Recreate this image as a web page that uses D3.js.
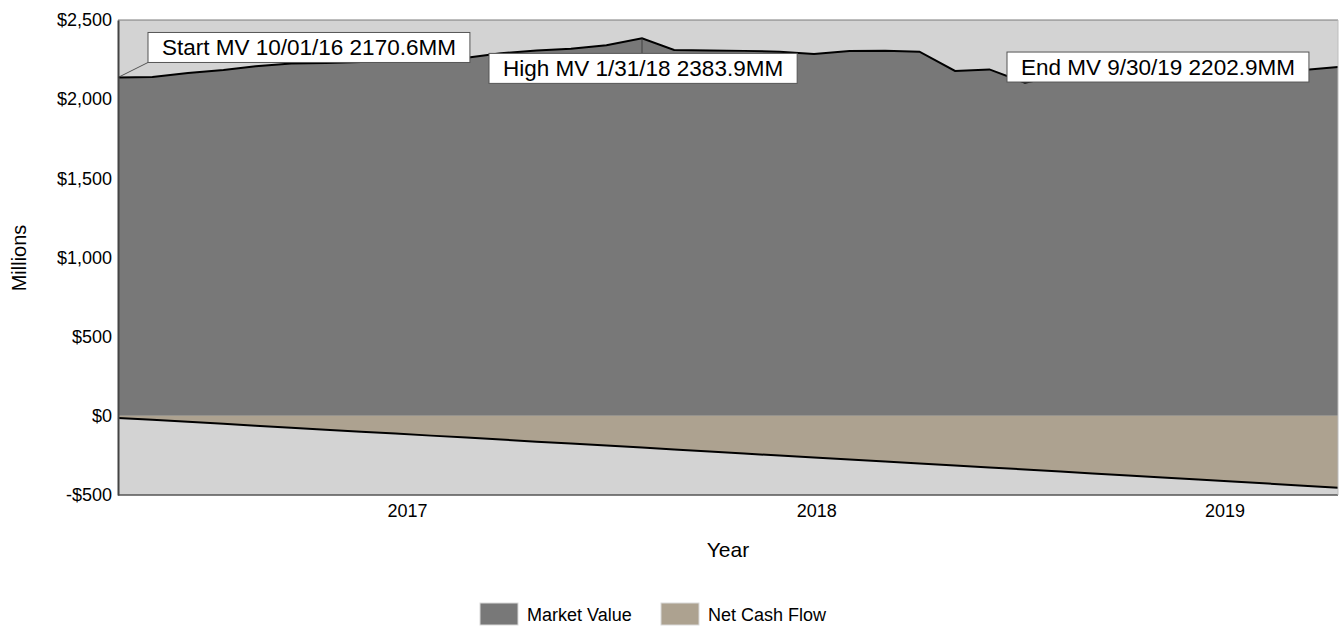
<!DOCTYPE html>
<html>
<head>
<meta charset="utf-8">
<script src="https://cdn.jsdelivr.net/npm/d3@7"></script>
<style>
body { margin: 0; background: #fff; }
text { font-family: Arial, "Liberation Sans", sans-serif; fill: #000; }
</style>
</head>
<body>
<script>
// month end dates
var dates = ["2016-10-31","2016-11-30","2016-12-31","2017-01-31","2017-02-28","2017-03-31",
  "2017-04-30","2017-05-31","2017-06-30","2017-07-31","2017-08-31","2017-09-30",
  "2017-10-31","2017-11-30","2017-12-31","2018-01-31","2018-02-28","2018-03-31",
  "2018-04-30","2018-05-31","2018-06-30","2018-07-31","2018-08-31","2018-09-30",
  "2018-10-31","2018-11-30","2018-12-31","2019-01-31","2019-02-28","2019-03-31",
  "2019-04-30","2019-05-31","2019-06-30","2019-07-31","2019-08-31","2019-09-30"];

var marketValue = [2137, 2140, 2165, 2184, 2208, 2225,
  2228, 2234, 2240, 2250, 2262, 2290,
  2308, 2318, 2340, 2383.9, 2311, 2308,
  2305, 2300, 2285, 2304, 2305, 2300,
  2178, 2188, 2104, 2150, 2165, 2178,
  2190, 2175, 2170, 2182, 2184, 2202.9];

var netCashFlow = [-13, -25, -38, -50, -62, -75,
  -88, -100, -112, -125, -137, -150,
  -163, -175, -188, -200, -213, -226,
  -238, -251, -263, -276, -289, -301,
  -314, -326, -339, -352, -364, -377,
  -389, -402, -415, -428, -441, -454];

var yTicks = [-500, 0, 500, 1000, 1500, 2000, 2500];
var yearLabels = ["2017", "2018", "2019"];
var yearTickDates = ["2017-07-10", "2018-07-02", "2019-06-23"];

var seriesNames = ["Market Value", "Net Cash Flow"];
var seriesColors = ["#787878", "#ada290"];

var annotations = [
  {text: "Start MV 10/01/16 2170.6MM", idx: 0},
  {text: "High MV 1/31/18 2383.9MM", idx: 15},
  {text: "End MV 9/30/19 2202.9MM", idx: 35}
];

var width = 1339, height = 627;
var plotLeft = 118, plotRight = 1338, plotTop = 20, plotBottom = 495;

var parse = d3.timeParse("%Y-%m-%d");
var data = dates.map(function(d, i){
  return {date: parse(d), mv: marketValue[i], ncf: netCashFlow[i]};
});

var svg = d3.select("body")
.append("svg")
.attr("width", width)
.attr("height", height)
.attr("id", "svg");

var x = d3.scaleTime()
  .domain(d3.extent(data, function(d){ return d.date; }))
  .range([plotLeft, plotRight]);

var y = d3.scaleLinear()
  .domain([-500, 2500])
  .range([plotBottom, plotTop]);

// plot background
svg.append("rect")
  .attr("x", plotLeft)
  .attr("y", plotTop)
  .attr("width", plotRight - plotLeft)
  .attr("height", plotBottom - plotTop)
  .attr("fill", "#d3d3d3");

var mvArea = d3.area()
  .x(function(d){ return x(d.date); })
  .y0(y(0))
  .y1(function(d){ return y(d.mv); });

var ncfArea = d3.area()
  .x(function(d){ return x(d.date); })
  .y0(y(0))
  .y1(function(d){ return y(d.ncf); });

svg.append("path")
  .datum(data)
  .attr("d", mvArea)
  .attr("fill", seriesColors[0]);

svg.append("path")
  .datum(data)
  .attr("d", ncfArea)
  .attr("fill", seriesColors[1]);

svg.append("path")
  .datum(data)
  .attr("d", d3.line().x(function(d){ return x(d.date); }).y(function(d){ return y(d.mv); }))
  .attr("fill", "none")
  .attr("stroke", "#000")
  .attr("stroke-width", 2);

svg.append("path")
  .datum(data)
  .attr("d", d3.line().x(function(d){ return x(d.date); }).y(function(d){ return y(d.ncf); }))
  .attr("fill", "none")
  .attr("stroke", "#000")
  .attr("stroke-width", 2);

// frame
svg.append("line").attr("x1", plotLeft).attr("x2", plotRight).attr("y1", plotTop).attr("y2", plotTop)
  .attr("stroke", "#7a7a7a").attr("stroke-width", 1);
svg.append("line").attr("x1", plotLeft).attr("x2", plotRight).attr("y1", plotBottom).attr("y2", plotBottom)
  .attr("stroke", "#555").attr("stroke-width", 1.5);
svg.append("line").attr("x1", plotRight).attr("x2", plotRight).attr("y1", plotTop).attr("y2", plotBottom)
  .attr("stroke", "#bdbdbd").attr("stroke-width", 1);

// y axis
var yAxis = svg.append("g")
  .attr("transform", "translate(" + plotLeft + ",0)")
  .call(d3.axisLeft(y).tickValues(yTicks).tickSize(0).tickPadding(6)
    .tickFormat(function(d){ return (d < 0 ? "-$" : "$") + d3.format(",")(Math.abs(d)); }));
yAxis.select(".domain").attr("stroke", "#444").attr("stroke-width", 2);
yAxis.selectAll("text").style("font-size", "18px").attr("fill", "#000");

// x axis - year labels only
var xAxis = svg.append("g")
  .attr("transform", "translate(0," + plotBottom + ")")
  .call(d3.axisBottom(x).tickValues(yearTickDates.map(parse)).tickSize(0).tickPadding(9)
    .tickFormat(function(d, i){ return yearLabels[i]; }));
xAxis.select(".domain").remove();
xAxis.selectAll("text").style("font-size", "18px").attr("fill", "#000");

svg.append("text")
  .attr("x", (plotLeft + plotRight) / 2)
  .attr("y", 557)
  .attr("text-anchor", "middle")
  .style("font-size", "21px")
  .text("Year");

svg.append("text")
  .attr("transform", "translate(26,258) rotate(-90)")
  .attr("text-anchor", "middle")
  .style("font-size", "20px")
  .text("Millions");

// annotation boxes
var boxOffsets = [[30, -45], [-153, 15], [-331, -15]];
annotations.forEach(function(a, k){
  var d = data[a.idx];
  var px = x(d.date), py = y(d.mv);
  var bx = px + boxOffsets[k][0], by = py + boxOffsets[k][1];
  if (k == 0) {
    svg.append("line")
      .attr("x1", px).attr("y1", py).attr("x2", bx).attr("y2", by + 30)
      .attr("stroke", "#333").attr("stroke-width", 0.8);
  }
  if (k == 1) {
    svg.append("line")
      .attr("x1", px).attr("y1", py).attr("x2", px).attr("y2", by)
      .attr("stroke", "#333").attr("stroke-width", 0.8);
  }
  var g = svg.append("g");
  var box = g.append("rect");
  var t = g.append("text")
    .attr("x", bx + 14)
    .attr("y", by + 23)
    .style("font-size", "22.5px")
    .text(a.text);
  var w = t.node().getComputedTextLength() + 28;
  box
    .attr("x", bx)
    .attr("y", by)
    .attr("width", w)
    .attr("height", 30)
    .attr("fill", "#fff")
    .attr("stroke", "#555")
    .attr("stroke-width", 1);
});

// legend
var legendX = [480, 661];
var legend = svg.selectAll(".legend")
  .data(seriesNames)
  .enter().append("g")
  .attr("class", "legend")
  .attr("transform", function(d, i){ return "translate(" + legendX[i] + ",603)"; });

legend.append("rect")
  .attr("width", 38)
  .attr("height", 22)
  .attr("fill", function(d, i){ return seriesColors[i]; })
  .attr("stroke", "#d9d9d9")
  .attr("stroke-width", 1);

legend.append("text")
  .attr("x", 47)
  .attr("y", 18)
  .style("font-size", "18px")
  .text(function(d){ return d; });
</script>
</body>
</html>
